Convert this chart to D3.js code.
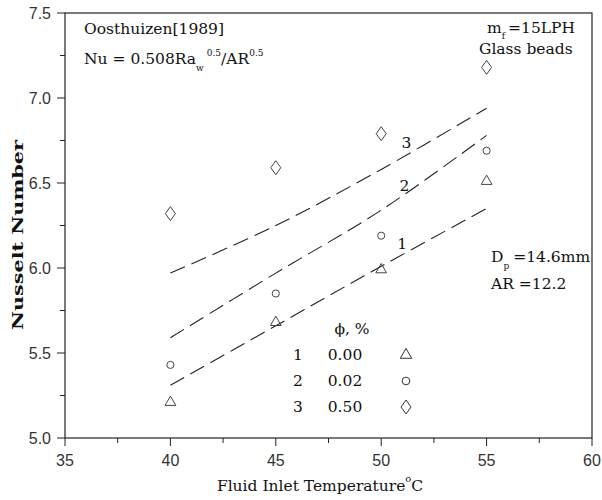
<!DOCTYPE html>
<html>
<head>
<meta charset="utf-8">
<script src="https://cdn.jsdelivr.net/npm/d3@7"></script>
<style>
  body { margin: 0; background: #fff; }
  .tick-label { font-family: "Liberation Sans", Arial, sans-serif; font-size: 16px; fill: #333; }
  .note { font-family: "DejaVu Serif", serif; font-size: 15.5px; fill: #111; }
</style>
</head>
<body>
<div id="chart"></div>
<script>
const temps = [40, 45, 50, 55];
const nuPhi000 = [5.21, 5.68, 5.99, 6.51];
const nuPhi002 = [5.43, 5.85, 6.19, 6.69];
const nuPhi050 = [6.32, 6.59, 6.79, 7.18];

// Oosthuizen correlation curves
const corr1 = [5.31, 5.66, 6.01, 6.35];
const corr2 = [5.59, 5.97, 6.34, 6.78];
const corr3 = [5.97, 6.25, 6.58, 6.94];

const xTicks = [35, 40, 45, 50, 55, 60];
const yTicks = [5.0, 5.5, 6.0, 6.5, 7.0, 7.5];

const legendIds = ["1", "2", "3"];
const legendPhi = ["0.00", "0.02", "0.50"];

const margin = {top: 13, right: 10, bottom: 62, left: 65};
const width = 602 - margin.left - margin.right;
const height = 500 - margin.top - margin.bottom;

let svg = d3.select("#chart").append("svg")
  .attr("width", 602)
  .attr("height", 500);

let g = svg.append("g").attr("transform", `translate(${margin.left},${margin.top})`);

let x = d3.scaleLinear().domain([35, 60]).range([0, width]);
let y = d3.scaleLinear().domain([5.0, 7.5]).range([height, 0]);

//frame
g.append("rect")
  .attr("width", width).attr("height", height)
  .attr("fill", "none").attr("stroke", "#222").attr("stroke-width", 1.2);

//ticks, all pointing outward
let xMinor = d3.range(35, 60.01, 2.5);
let yMinor = d3.range(5.0, 7.51, 0.25);
g.selectAll(".xminor").data(xMinor).enter().append("line")
  .attr("x1", d => x(d)).attr("x2", d => x(d))
  .attr("y1", height).attr("y2", d => height + (xTicks.includes(d) ? 8 : 5))
  .attr("stroke", "#222");
g.selectAll(".yminor").data(yMinor).enter().append("line")
  .attr("y1", d => y(d)).attr("y2", d => y(d))
  .attr("x1", 0).attr("x2", (d, i) => i % 2 == 0 ? -8 : -5)
  .attr("stroke", "#222");

g.selectAll(".xlab").data(xTicks).enter().append("text")
  .attr("class", "tick-label")
  .attr("x", d => x(d)).attr("y", height + 28)
  .attr("text-anchor", "middle")
  .text(d => d);
g.selectAll(".ylab").data(yTicks).enter().append("text")
  .attr("class", "tick-label")
  .attr("x", -14).attr("y", d => y(d) + 6)
  .attr("text-anchor", "end")
  .text(d => d.toFixed(1));

//axis titles
svg.append("text")
  .attr("class", "note")
  .attr("x", margin.left + x(47.1)).attr("y", 491)
  .attr("text-anchor", "middle")
  .attr("font-size", 17.5)
  .html('Fluid Inlet Temperature<tspan font-size="10" dy="-9">o</tspan><tspan dy="9">C</tspan>');

svg.append("text")
  .attr("class", "note")
  .attr("transform", "translate(23,235) rotate(-90)")
  .attr("text-anchor", "middle")
  .attr("font-size", 17.5)
  .attr("font-weight", "bold")
  .attr("textLength", 190)
  .attr("lengthAdjust", "spacingAndGlyphs")
  .text("Nusselt Number");

//correlation curves
let line = d3.line()
  .x((d, i) => x(temps[i]))
  .y(d => y(d))
  .curve(d3.curveCatmullRom);

[corr1, corr2, corr3].forEach(c => {
  g.append("path")
    .datum(c)
    .attr("d", line)
    .attr("fill", "none")
    .attr("stroke", "#222")
    .attr("stroke-width", 1.1)
    .attr("stroke-dasharray", "16,7");
});

//curve labels
[["1", 51.0, 6.15], ["2", 51.1, 6.49], ["3", 51.2, 6.74]].forEach(l => {
  g.append("text")
    .attr("class", "note")
    .attr("font-size", 18)
    .attr("x", x(l[1])).attr("y", y(l[2]) + 6)
    .attr("text-anchor", "middle")
    .text(l[0]);
});

//markers
let diamond = {
  draw(ctx, size) {
    let w = 5, h = 7;
    ctx.moveTo(0, -h); ctx.lineTo(w, 0); ctx.lineTo(0, h); ctx.lineTo(-w, 0); ctx.closePath();
  }
};
let shapes = [d3.symbolTriangle, d3.symbolCircle, diamond];
let sizes = [50, 40, 60];
[nuPhi000, nuPhi002, nuPhi050].forEach((s, k) => {
  g.selectAll(".m" + k).data(s).enter().append("path")
    .attr("d", d3.symbol().type(shapes[k]).size(sizes[k]))
    .attr("transform", (d, i) => `translate(${x(temps[i])},${y(d)})`)
    .attr("fill", "none")
    .attr("stroke", "#444")
    .attr("stroke-width", 1);
});

//annotations
svg.append("text").attr("class", "note")
  .attr("x", 84).attr("y", 34).attr("font-size", 16.5)
  .text("Oosthuizen[1989]");
svg.append("text").attr("class", "note")
  .attr("x", 84).attr("y", 64).attr("font-size", 16.5)
  .html('Nu = 0.508Ra<tspan font-size="9" dy="7">w</tspan><tspan font-size="9" dy="-15" dx="3">0.5</tspan><tspan dy="8">/AR</tspan><tspan font-size="9" dy="-8">0.5</tspan>');

svg.append("text").attr("class", "note")
  .attr("x", 487).attr("y", 33).attr("font-size", 16)
  .html('m<tspan font-size="9" dy="6">f</tspan><tspan dy="-6" dx="3">=15LPH</tspan>');
svg.append("text").attr("class", "note")
  .attr("x", 479).attr("y", 54).attr("font-size", 16)
  .text("Glass beads");

svg.append("text").attr("class", "note")
  .attr("x", 491).attr("y", 262).attr("font-size", 16)
  .html('D<tspan font-size="9" dy="7">p</tspan><tspan dy="-7" dx="4">=14.6mm</tspan>');
svg.append("text").attr("class", "note")
  .attr("x", 491).attr("y", 289).attr("font-size", 16)
  .text("AR =12.2");

//legend
svg.append("text").attr("class", "note")
  .attr("x", 352).attr("y", 334)
  .attr("text-anchor", "middle")
  .text("ϕ, %");
legendIds.forEach((id, i) => {
  let ly = 355 + i * 26;
  svg.append("text").attr("class", "note").attr("x", 298).attr("y", ly + 5).attr("text-anchor", "middle").text(id);
  svg.append("text").attr("class", "note").attr("x", 345).attr("y", ly + 5).attr("text-anchor", "middle").text(legendPhi[i]);
  svg.append("path")
    .attr("d", d3.symbol().type(shapes[i]).size(sizes[i] + 6))
    .attr("transform", `translate(406,${ly})`)
    .attr("fill", "none").attr("stroke", "#333");
});
</script>
</body>
</html>
